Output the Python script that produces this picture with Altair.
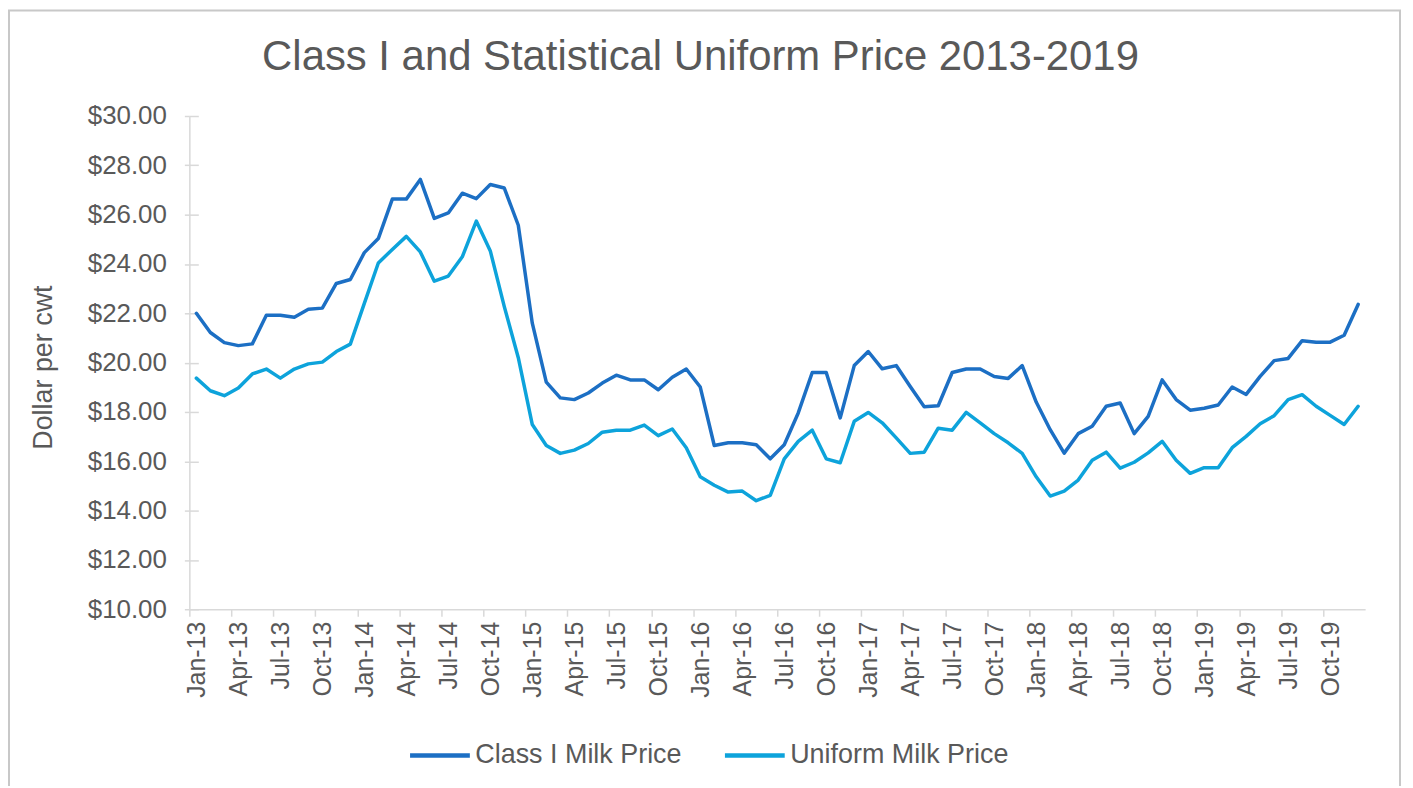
import json
import altair as alt
import pandas as pd

title_text = "Class I and Statistical Uniform Price 2013-2019"
y_title = "Dollar per cwt"
series_names = ["Class I Milk Price", "Uniform Milk Price"]
series_colors = ["#1C6FC4", "#0DA3DB"]

month_names = ["Jan", "Feb", "Mar", "Apr", "May", "Jun",
               "Jul", "Aug", "Sep", "Oct", "Nov", "Dec"]
years = ["13", "14", "15", "16", "17", "18", "19"]
month_labels = [f"{m}-{y}" for y in years for m in month_names]
tick_labels = [f"{m}-{y}" for y in years for m in ["Jan", "Apr", "Jul", "Oct"]]
y_ticks = [10, 12, 14, 16, 18, 20, 22, 24, 26, 28, 30]

class_i = [22.00, 21.22, 20.81, 20.69, 20.76, 21.92, 21.92, 21.84, 22.16, 22.21, 23.21, 23.37,
           24.46, 25.03, 26.63, 26.63, 27.43, 25.85, 26.07, 26.87, 26.65, 27.22, 27.08, 25.57,
           21.60, 19.21, 18.57, 18.50, 18.77, 19.17, 19.49, 19.30, 19.30, 18.90, 19.41, 19.74,
           19.01, 16.64, 16.75, 16.75, 16.67, 16.10, 16.67, 17.96, 19.60, 19.60, 17.76, 19.88,
           20.45, 19.75, 19.88, 19.03, 18.21, 18.25, 19.60, 19.74, 19.74, 19.44, 19.36, 19.88,
           18.40, 17.28, 16.33, 17.12, 17.42, 18.23, 18.36, 17.12, 17.82, 19.30, 18.50, 18.07,
           18.15, 18.28, 19.01, 18.71, 19.44, 20.08, 20.17, 20.89, 20.83, 20.83, 21.11, 22.36]

uniform = [19.37, 18.86, 18.66, 18.97, 19.54, 19.74, 19.37, 19.74, 19.95, 20.02, 20.45, 20.75,
           22.40, 24.04, 24.59, 25.12, 24.49, 23.30, 23.51, 24.29, 25.74, 24.53, 22.27, 20.20,
           17.49, 16.64, 16.32, 16.45, 16.72, 17.18, 17.26, 17.26, 17.47, 17.04, 17.31, 16.55,
           15.37, 15.03, 14.75, 14.79, 14.40, 14.62, 16.10, 16.81, 17.26, 16.10, 15.94, 17.62,
           17.98, 17.56, 16.95, 16.32, 16.37, 17.34, 17.26, 17.98, 17.56, 17.12, 16.75, 16.32,
           15.37, 14.59, 14.79, 15.24, 16.04, 16.37, 15.72, 15.96, 16.34, 16.81, 16.04, 15.51,
           15.74, 15.74, 16.55, 17.01, 17.52, 17.85, 18.50, 18.70, 18.23, 17.86, 17.49, 18.23]

n = len(month_labels)
df = pd.DataFrame({
    "idx": list(range(n)) * 2,
    "month": month_labels * 2,
    "series": [series_names[0]] * n + [series_names[1]] * n,
    "price": class_i + uniform,
})

FONT = "Liberation Sans, Arial, Helvetica, sans-serif"
GREY_TXT = "#595959"
GREY_LINE = "#D9D9D9"
W, H = 1180, 495
step = W / n

label_expr = ("datum.value < %d ? %s[round(datum.value / 3)] : ''"
              % (n, json.dumps(tick_labels)))

x_enc = alt.X(
    "idx:Q",
    scale=alt.Scale(domain=[-0.5, n - 0.5], nice=False, zero=False),
    axis=alt.Axis(
        values=list(range(0, n + 1, 3)), labelExpr=label_expr,
        labelAngle=270, labelAlign="right", labelBaseline="middle",
        tickOffset=-step / 2, labelOffset=step / 2,
        tickSize=7, tickColor=GREY_LINE, tickWidth=1.5,
        domainColor=GREY_LINE, domainWidth=1.5,
        labelFont=FONT, labelFontSize=25, labelColor=GREY_TXT, labelPadding=5,
        labelOverlap=False, labelFlush=False, labelBound=False,
        grid=False, title=None,
    ),
)

y_scale = alt.Scale(domain=[10, 30], nice=False, zero=False)

lines = alt.Chart(df).mark_line(strokeWidth=3.5, strokeJoin="round", strokeCap="round").encode(
    x=x_enc,
    y=alt.Y(
        "price:Q", scale=y_scale,
        axis=alt.Axis(
            values=y_ticks, format="$.2f",
            tickSize=5, tickColor=GREY_LINE, tickWidth=1.5,
            domainColor=GREY_LINE, domainWidth=1.5,
            labelFont=FONT, labelFontSize=26, labelColor=GREY_TXT, labelPadding=18,
            grid=False, title=y_title, titleFont=FONT, titleFontSize=27,
            titleFontWeight="normal", titleColor=GREY_TXT, titleAngle=270,
            titleAlign="center", titleBaseline="alphabetic", titleX=-138, titleY=252,
        ),
    ),
    color=alt.Color(
        "series:N",
        scale=alt.Scale(domain=series_names, range=series_colors),
        legend=alt.Legend(
            orient="none", legendX=219, legendY=609, direction="horizontal",
            title=None, symbolType="stroke", symbolSize=3600, symbolStrokeWidth=4.5,
            labelFont=FONT, labelFontSize=27, labelColor=GREY_TXT, labelOffset=3,
            columnPadding=33, labelLimit=400,
        ),
    ),
    order="idx:Q",
)

inner_ticks = alt.Chart(df).mark_line(opacity=0).encode(
    x=x_enc,
    y=alt.Y(
        "price:Q", scale=y_scale,
        axis=alt.Axis(
            orient="right", offset=-W, values=y_ticks, labels=False, domain=False,
            ticks=True, tickSize=9, tickColor=GREY_LINE, tickWidth=1.5,
            grid=False, title=None,
        ),
    ),
    detail="series:N",
)

frame = alt.Chart(pd.DataFrame({"f": [0]})).mark_rect(
    fillOpacity=0, stroke="#C8C8C8", strokeWidth=2
).encode(
    x=alt.value(-181), x2=alt.value(1215), y=alt.value(-106), y2=alt.value(760),
)

title = alt.Chart(pd.DataFrame({"t": [title_text]})).mark_text(
    font=FONT, fontSize=42, color=GREY_TXT, align="center", baseline="alphabetic"
).encode(
    x=alt.value(513), y=alt.value(-46), text="t:N",
)

chart = alt.layer(frame, lines, inner_ticks, title).resolve_axis(
    y="independent"
).properties(
    width=W, height=H,
    autosize=alt.AutoSizeParams(type="none"),
    padding={"left": 182, "top": 107, "right": 40, "bottom": 176},
    background="white",
).configure_view(stroke=None)

chart.save("out.html", embed_options={"renderer": "svg", "actions": False})
